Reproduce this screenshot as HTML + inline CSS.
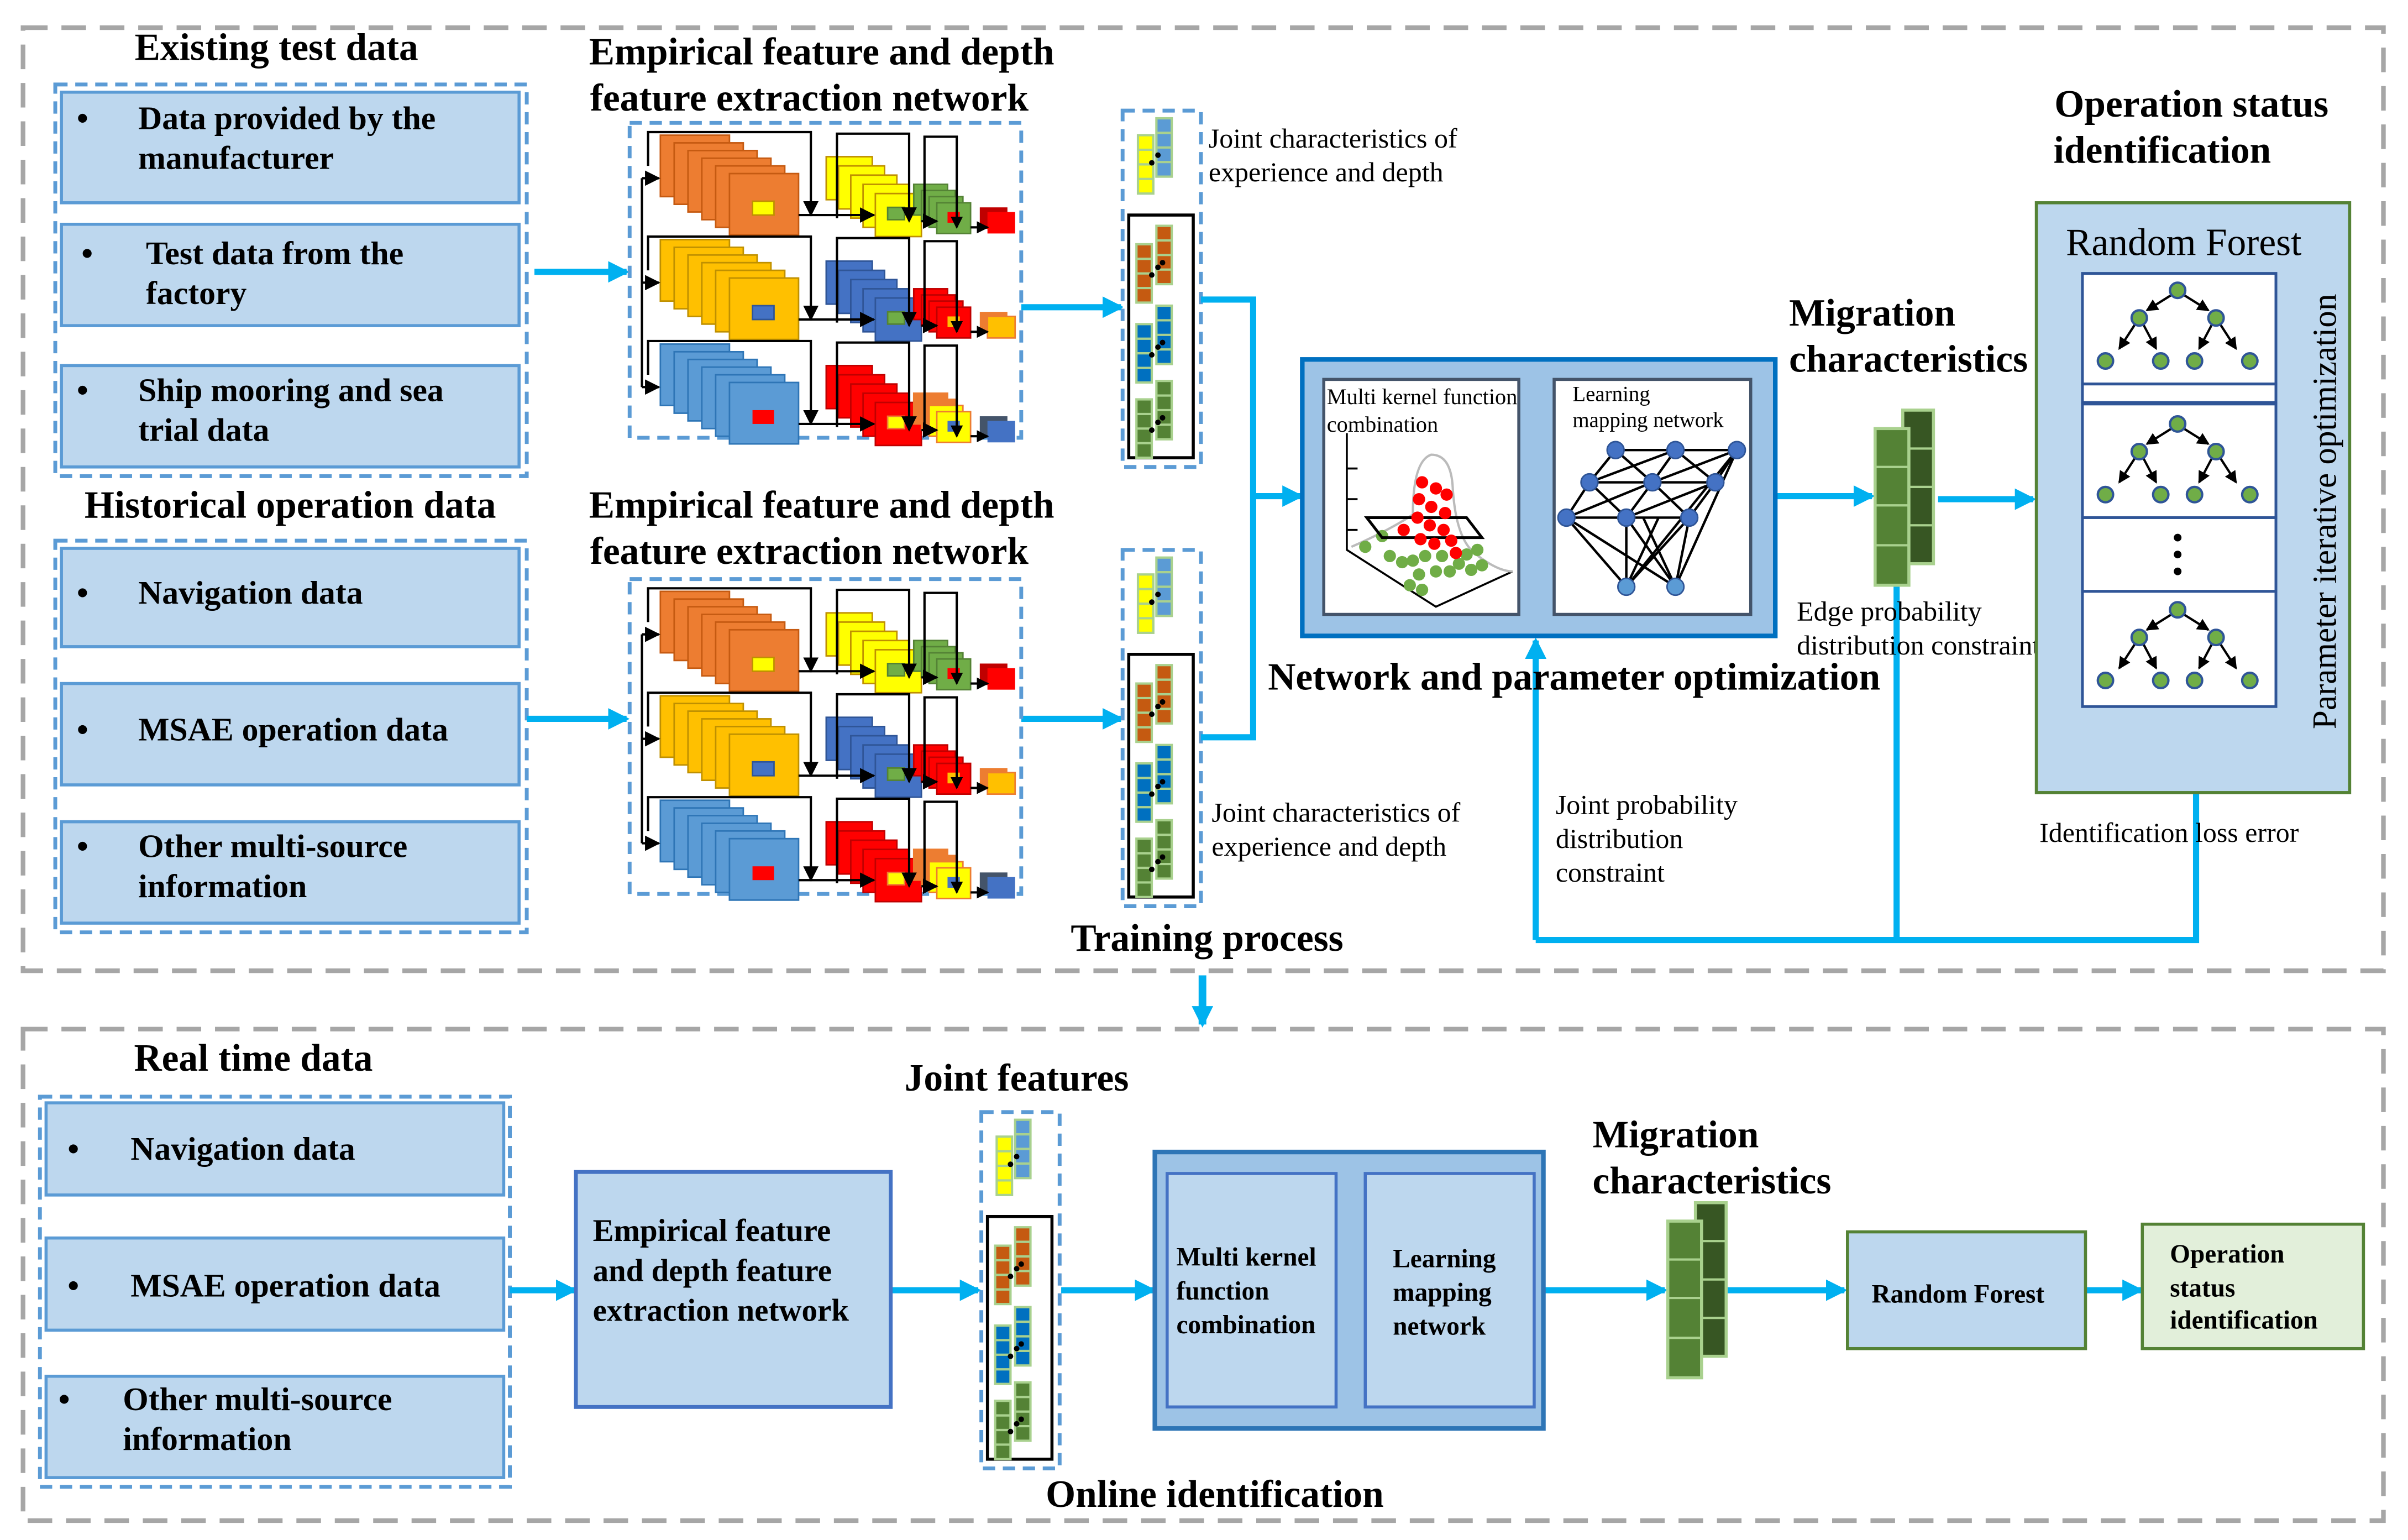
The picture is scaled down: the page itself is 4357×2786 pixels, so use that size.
<!DOCTYPE html>
<html><head><meta charset="utf-8"><style>
html,body{margin:0;padding:0;background:#fff}
svg{display:block}
text{font-family:"Liberation Serif",serif}
.h{font-weight:bold;font-size:25px}
.b{font-weight:bold;font-size:21.5px}
.r{font-size:18px}
</style></head><body>
<svg width="4357" height="2786" viewBox="0 0 1568 1002.6" xmlns="http://www.w3.org/2000/svg">
<defs>
<marker id="ab" markerWidth="14" markerHeight="14" refX="12" refY="7" orient="auto" markerUnits="userSpaceOnUse"><path d="M0,0 L14,7 L0,14 z" fill="#00b0f0"/></marker>
<marker id="ak" markerWidth="10" markerHeight="10" refX="9" refY="5" orient="auto" markerUnits="userSpaceOnUse"><path d="M0,0 L10,5 L0,10 z" fill="#000"/></marker>
<marker id="at" markerWidth="8" markerHeight="8" refX="7" refY="4" orient="auto" markerUnits="userSpaceOnUse"><path d="M0,0 L8,4 L0,8 z" fill="#000"/></marker>

<g id="row">
 <g stroke-width="1">
  <rect x="20" y="8" width="45" height="40"/><rect x="29" y="13" width="45" height="40"/><rect x="38" y="18" width="45" height="40"/><rect x="47" y="23" width="45" height="40"/><rect x="56" y="28" width="45" height="40"/><rect x="65" y="33" width="45" height="40"/>
 </g>
</g>

<g id="fen">
 <rect x="0" y="0" width="255" height="205" fill="#fff" stroke="#5b9bd5" stroke-width="2.5" stroke-dasharray="8,5"/>
 <g fill="#ed7d31" stroke="#c55a11"><use href="#row"/></g>
 <rect x="80" y="51" width="14" height="9" fill="#ffff00" stroke="#bf9000"/>
 <g fill="#ffff00" stroke="#bf9000"><rect x="128" y="22" width="30" height="28"/><rect x="136" y="28" width="30" height="28"/><rect x="144" y="34" width="30" height="28"/><rect x="152" y="40" width="30" height="28"/><rect x="160" y="46" width="30" height="28"/></g>
 <rect x="168" y="55" width="11" height="8" fill="#70ad47" stroke="#548235"/>
 <g fill="#70ad47" stroke="#548235"><rect x="185" y="40" width="22" height="20"/><rect x="190" y="44" width="22" height="20"/><rect x="195" y="48" width="22" height="20"/><rect x="200" y="52" width="22" height="20"/></g>
 <rect x="207" y="58" width="8" height="7" fill="#f00"/>
 <rect x="228" y="55" width="18" height="14" fill="#c00000"/><rect x="233" y="58" width="18" height="14" fill="#f00"/>
 <g transform="translate(0,68)">
 <g fill="#ffc000" stroke="#bf9000"><use href="#row"/></g>
 <rect x="80" y="51" width="14" height="9" fill="#4472c4" stroke="#2f5597"/>
 <g fill="#4472c4" stroke="#2f5597"><rect x="128" y="22" width="30" height="28"/><rect x="136" y="28" width="30" height="28"/><rect x="144" y="34" width="30" height="28"/><rect x="152" y="40" width="30" height="28"/><rect x="160" y="46" width="30" height="28"/></g>
 <rect x="168" y="55" width="11" height="8" fill="#70ad47" stroke="#548235"/>
 <g fill="#f00" stroke="#c00000"><rect x="185" y="40" width="22" height="20"/><rect x="190" y="44" width="22" height="20"/><rect x="195" y="48" width="22" height="20"/><rect x="200" y="52" width="22" height="20"/></g>
 <rect x="207" y="58" width="8" height="7" fill="#ffc000"/>
 <rect x="228" y="55" width="18" height="14" fill="#ed7d31"/><rect x="233" y="58" width="18" height="14" fill="#ffc000" stroke="#ed7d31"/>
 </g>
 <g transform="translate(0,136)">
 <g fill="#5b9bd5" stroke="#2e75b6"><use href="#row"/></g>
 <rect x="80" y="51" width="14" height="9" fill="#f00"/>
 <g fill="#f00" stroke="#c00000"><rect x="128" y="22" width="30" height="28"/><rect x="136" y="28" width="30" height="28"/><rect x="144" y="34" width="30" height="28"/><rect x="152" y="40" width="30" height="28"/><rect x="160" y="46" width="30" height="28"/></g>
 <rect x="168" y="55" width="11" height="8" fill="#ffff00" stroke="#ed7d31"/>
 <g fill="#ffff00" stroke="#ed7d31"><rect x="185" y="40" width="22" height="20" fill="#ed7d31"/><rect x="190" y="44" width="22" height="20" fill="#ed7d31"/><rect x="195" y="48" width="22" height="20"/><rect x="200" y="52" width="22" height="20"/></g>
 <rect x="207" y="58" width="8" height="7" fill="#4472c4"/>
 <rect x="228" y="55" width="18" height="14" fill="#44546a"/><rect x="233" y="58" width="18" height="14" fill="#4472c4"/>
 </g>
 <g fill="none" stroke="#000" stroke-width="1.5">
  <path d="M8,36 V172"/>
  <path d="M8,36 H19" marker-end="url(#ak)"/><path d="M8,104 H19" marker-end="url(#ak)"/><path d="M8,172 H19" marker-end="url(#ak)"/>
  <g id="brk">
   <path d="M12,28 V6 H118 V60" marker-end="url(#ak)"/>
   <path d="M110,60 H159" marker-end="url(#ak)"/>
   <path d="M135,62 V7 H182 V64" marker-end="url(#ak)"/>
   <path d="M190,64 H200" marker-end="url(#ak)"/>
   <path d="M192,64 V9 H213 V68" marker-end="url(#at)"/>
   <path d="M222,68 H233" marker-end="url(#at)"/>
  </g>
  <use href="#brk" y="68"/><use href="#brk" y="136"/>
 </g>
</g>

<g id="col"><rect x="0" y="0" width="10" height="38"/><line x1="0" y1="9.5" x2="10" y2="9.5"/><line x1="0" y1="19" x2="10" y2="19"/><line x1="0" y1="28.5" x2="10" y2="28.5"/></g>
<g id="pair">
 <use href="#col" x="7" y="12"/><use href="#col" x="20" y="0"/>
 <circle cx="17" cy="32" r="1.8" fill="#000" stroke="none"/><circle cx="21" cy="27" r="1.8" fill="#000" stroke="none"/><circle cx="24" cy="24" r="1.8" fill="#000" stroke="none"/>
</g>
<g id="joint">
 <rect x="0" y="0" width="51" height="232" fill="#fff" stroke="#5b9bd5" stroke-width="2.5" stroke-dasharray="8,5"/>
 <g stroke="#a9d18e" stroke-width="1.5"><g fill="#ffff00"><use href="#col" x="10" y="16"/></g><g fill="#5b9bd5"><use href="#col" x="22" y="5"/></g></g>
 <circle cx="19" cy="34" r="1.8"/><circle cx="23" cy="29" r="1.8"/>
 <rect x="4" y="68" width="42" height="158" fill="#fff" stroke="#000" stroke-width="2"/>
 <g stroke="#a9d18e" stroke-width="1.5">
  <g fill="#c55a11"><use href="#pair" x="2" y="75"/></g>
  <g fill="#0070c0"><use href="#pair" x="2" y="127"/></g>
  <g fill="#548235"><use href="#pair" x="2" y="176"/></g>
 </g>
</g>

<g id="tree" stroke="#000" stroke-width="1.5" fill="none">
 <path d="M-4,3 L-20,13" marker-end="url(#at)"/><path d="M4,3 L20,13" marker-end="url(#at)"/>
 <path d="M-27,21 L-38,38" marker-end="url(#at)"/><path d="M-23,21 L-14,38" marker-end="url(#at)"/>
 <path d="M23,21 L14,38" marker-end="url(#at)"/><path d="M27,21 L38,38" marker-end="url(#at)"/>
 <g fill="#70ad47" stroke="#2f5597" stroke-width="1.5">
  <circle cx="0" cy="0" r="5"/><circle cx="-25" cy="18" r="5"/><circle cx="25" cy="18" r="5"/>
  <circle cx="-47" cy="46" r="5"/><circle cx="-11" cy="46" r="5"/><circle cx="11" cy="46" r="5"/><circle cx="47" cy="46" r="5"/>
 </g>
</g>

<g id="mig">
 <rect x="18" y="0" width="20" height="100" fill="#375623" stroke="#a9d18e" stroke-width="2"/>
 <g stroke="#a9d18e" stroke-width="1.5"><line x1="18" y1="25" x2="38" y2="25"/><line x1="18" y1="50" x2="38" y2="50"/><line x1="18" y1="75" x2="38" y2="75"/></g>
 <rect x="0" y="12" width="22" height="102" fill="#548235" stroke="#a9d18e" stroke-width="2"/>
 <g stroke="#a9d18e" stroke-width="1.5"><line x1="0" y1="37" x2="22" y2="37"/><line x1="0" y1="62" x2="22" y2="62"/><line x1="0" y1="88" x2="22" y2="88"/></g>
</g>
</defs>

<rect x="15" y="18" width="1537" height="614" fill="none" stroke="#a6a6a6" stroke-width="3" stroke-dasharray="16,9"/>
<rect x="15" y="670" width="1537" height="320" fill="none" stroke="#a6a6a6" stroke-width="3" stroke-dasharray="16,9"/>

<text class="h" x="180" y="39" text-anchor="middle">Existing test data</text>
<rect x="36" y="55" width="307" height="255" fill="none" stroke="#5b9bd5" stroke-width="2.5" stroke-dasharray="8,5"/>
<g fill="#bdd7ee" stroke="#5b9bd5" stroke-width="2">
 <rect x="40" y="60" width="298" height="72"/><rect x="40" y="146" width="298" height="66"/><rect x="40" y="238" width="298" height="66"/>
</g>
<g class="b">
 <text x="50" y="84">•</text><text x="90" y="84">Data provided by the</text><text x="90" y="110">manufacturer</text>
 <text x="53" y="172">•</text><text x="95" y="172">Test data from the</text><text x="95" y="198">factory</text>
 <text x="50" y="261">•</text><text x="90" y="261">Ship mooring and sea</text><text x="90" y="287">trial data</text>
</g>
<text class="h" x="189" y="337" text-anchor="middle">Historical operation data</text>
<rect x="36" y="352" width="307" height="255" fill="none" stroke="#5b9bd5" stroke-width="2.5" stroke-dasharray="8,5"/>
<g fill="#bdd7ee" stroke="#5b9bd5" stroke-width="2">
 <rect x="40" y="357" width="298" height="64"/><rect x="40" y="445" width="298" height="66"/><rect x="40" y="535" width="298" height="66"/>
</g>
<g class="b">
 <text x="50" y="393">•</text><text x="90" y="393">Navigation data</text>
 <text x="50" y="482">•</text><text x="90" y="482">MSAE operation data</text>
 <text x="50" y="558">•</text><text x="90" y="558">Other multi-source</text><text x="90" y="584">information</text>
</g>

<g stroke="#00b0f0" stroke-width="4" fill="none">
 <path d="M348,177 H408" marker-end="url(#ab)"/>
 <path d="M343,468 H408" marker-end="url(#ab)"/>
 <path d="M665,200 H730" marker-end="url(#ab)"/>
 <path d="M665,468 H730" marker-end="url(#ab)"/>
</g>

<text class="h" x="535" y="42" text-anchor="middle">Empirical feature and depth</text>
<text class="h" x="527" y="72" text-anchor="middle">feature extraction network</text>
<use href="#fen" x="410" y="80"/>
<text class="h" x="535" y="337" text-anchor="middle">Empirical feature and depth</text>
<text class="h" x="527" y="367" text-anchor="middle">feature extraction network</text>
<use href="#fen" x="410" y="377"/>

<use href="#joint" x="731" y="72"/>
<use href="#joint" x="731" y="358"/>
<text class="r" x="787" y="96">Joint characteristics of</text>
<text class="r" x="787" y="118">experience and depth</text>
<text class="r" x="789" y="535">Joint characteristics of</text>
<text class="r" x="789" y="557">experience and depth</text>

<g stroke="#00b0f0" stroke-width="4" fill="none">
 <path d="M782,195 H816 V480 H782"/>
 <path d="M816,323 H847" marker-end="url(#ab)"/>
 <path d="M1156,323 H1219" marker-end="url(#ab)"/>
 <path d="M1262,325 H1324" marker-end="url(#ab)"/>
 <path d="M1235,382 V612 M1000,612 H1430 V517"/>
 <path d="M1000,612 V417" marker-end="url(#ab)"/>
 <path d="M1483,298 H1497 V495 H1418 V462" marker-end="url(#ab)"/>
</g>

<rect x="848" y="234" width="308" height="180" fill="#9dc3e6" stroke="#0070c0" stroke-width="3"/>
<rect x="862" y="247" width="127" height="153" fill="#fff" stroke="#44546a" stroke-width="2"/>
<rect x="1012" y="247" width="128" height="153" fill="#fff" stroke="#44546a" stroke-width="2"/>
<text x="864" y="263" font-size="14.5">Multi kernel function</text>
<text x="864" y="281" font-size="14.5">combination</text>
<text x="1024" y="261" font-size="14">Learning</text>
<text x="1024" y="278" font-size="14">mapping network</text>
<g fill="none" stroke="#000" stroke-width="1.3">
 <path d="M877,282 V358 L935,395 L985,372"/>
 <path d="M877,305 H884 M877,325 H884 M877,345 H884"/>
</g>
<path d="M880,356 Q905,345 920,335 Q920,300 932,296 Q945,296 946,318 Q948,350 960,360 Q975,372 985,372" fill="none" stroke="#bbb" stroke-width="1.5"/>
<g fill="#70ad47">
 <circle cx="889" cy="356" r="4"/><circle cx="900" cy="349" r="4"/><circle cx="905" cy="362" r="4"/><circle cx="913" cy="366" r="4"/><circle cx="920" cy="365" r="4"/><circle cx="924" cy="374" r="4"/><circle cx="928" cy="362" r="4"/><circle cx="935" cy="372" r="4"/><circle cx="939" cy="362" r="4"/><circle cx="944" cy="372" r="4"/><circle cx="950" cy="367" r="4"/><circle cx="955" cy="361" r="4"/><circle cx="958" cy="371" r="4"/><circle cx="965" cy="368" r="4"/><circle cx="918" cy="381" r="4"/><circle cx="926" cy="384" r="4"/><circle cx="962" cy="358" r="4"/>
</g>
<path d="M890,337 H955 L965,350 H900 Z" fill="none" stroke="#000" stroke-width="1.8"/>
<g fill="#f00">
 <circle cx="926" cy="314" r="4"/><circle cx="935" cy="318" r="4"/><circle cx="942" cy="322" r="4"/><circle cx="924" cy="325" r="4"/><circle cx="932" cy="330" r="4"/><circle cx="941" cy="334" r="4"/><circle cx="923" cy="337" r="4"/><circle cx="931" cy="342" r="4"/><circle cx="940" cy="345" r="4"/><circle cx="914" cy="345" r="4"/><circle cx="925" cy="351" r="4"/><circle cx="934" cy="354" r="4"/><circle cx="945" cy="352" r="4"/><circle cx="948" cy="360" r="4"/>
</g>
<g stroke="#000" stroke-width="1.6">
 <line x1="1052" y1="293" x2="1131" y2="293"/><line x1="1035" y1="314" x2="1117" y2="314"/><line x1="1020" y1="337" x2="1100" y2="337"/>
 <line x1="1052" y1="293" x2="1035" y2="314"/><line x1="1052" y1="293" x2="1076" y2="314"/><line x1="1091" y1="293" x2="1035" y2="314"/><line x1="1091" y1="293" x2="1076" y2="314"/><line x1="1091" y1="293" x2="1117" y2="314"/><line x1="1131" y1="293" x2="1076" y2="314"/><line x1="1131" y1="293" x2="1117" y2="314"/>
 <line x1="1035" y1="314" x2="1020" y2="337"/><line x1="1035" y1="314" x2="1059" y2="337"/><line x1="1076" y1="314" x2="1020" y2="337"/><line x1="1076" y1="314" x2="1059" y2="337"/><line x1="1076" y1="314" x2="1100" y2="337"/><line x1="1117" y1="314" x2="1059" y2="337"/><line x1="1117" y1="314" x2="1100" y2="337"/>
 <line x1="1020" y1="337" x2="1059" y2="382"/><line x1="1020" y1="337" x2="1091" y2="382"/><line x1="1059" y1="337" x2="1059" y2="382"/><line x1="1059" y1="337" x2="1091" y2="382"/><line x1="1100" y1="337" x2="1059" y2="382"/><line x1="1100" y1="337" x2="1091" y2="382"/><line x1="1131" y1="293" x2="1091" y2="382"/><line x1="1131" y1="293" x2="1059" y2="382"/><line x1="1070" y1="337" x2="1091" y2="382"/><line x1="1080" y1="337" x2="1059" y2="382"/>
</g>
<g fill="#4472c4" stroke="#2f5597" stroke-width="1">
 <circle cx="1052" cy="293" r="5.5"/><circle cx="1091" cy="293" r="5.5"/><circle cx="1131" cy="293" r="5.5"/>
 <circle cx="1035" cy="314" r="5.5"/><circle cx="1076" cy="314" r="5.5"/><circle cx="1117" cy="314" r="5.5"/>
 <circle cx="1020" cy="337" r="5.5"/><circle cx="1059" cy="337" r="5.5"/><circle cx="1100" cy="337" r="5.5"/>
 <circle cx="1059" cy="382" r="5.5" fill="#5b9bd5"/><circle cx="1091" cy="382" r="5.5" fill="#5b9bd5"/>
</g>
<text class="h" x="1025" y="449" text-anchor="middle">Network and parameter optimization</text>

<text class="h" x="1165" y="212">Migration</text>
<text class="h" x="1165" y="242">characteristics</text>
<use href="#mig" x="1221" y="267"/>
<text class="r" x="1170" y="404">Edge probability</text>
<text class="r" x="1170" y="426">distribution constraint</text>
<text class="r" x="1013" y="530">Joint probability</text>
<text class="r" x="1013" y="552">distribution</text>
<text class="r" x="1013" y="574">constraint</text>
<text class="r" x="1328" y="548">Identification loss error</text>

<text class="h" x="1427" y="76" text-anchor="middle">Operation status</text>
<text class="h" x="1408" y="106" text-anchor="middle">identification</text>
<rect x="1326" y="132" width="204" height="384" fill="#bdd7ee" stroke="#548235" stroke-width="2"/>
<text x="1422" y="166" text-anchor="middle" font-size="25">Random Forest</text>
<g fill="#fff" stroke="#2f5597" stroke-width="1.8">
 <rect x="1356" y="178" width="126" height="72"/><rect x="1356" y="250" width="126" height="12"/>
 <rect x="1356" y="263" width="126" height="74"/><rect x="1356" y="337" width="126" height="48"/>
 <rect x="1356" y="385" width="126" height="75"/>
</g>
<use href="#tree" x="1418" y="189"/><use href="#tree" x="1418" y="276"/><use href="#tree" x="1418" y="397"/>
<circle cx="1418" cy="350" r="2.5"/><circle cx="1418" cy="361" r="2.5"/><circle cx="1418" cy="372" r="2.5"/>
<text x="1521" y="333" text-anchor="middle" font-size="22" transform="rotate(-90 1521 333)">Parameter iterative optimization</text>

<text class="h" x="786" y="619" text-anchor="middle">Training process</text>
<path d="M783,635 V667" stroke="#00b0f0" stroke-width="5" marker-end="url(#ab)"/>

<text class="h" x="165" y="697" text-anchor="middle">Real time data</text>
<rect x="26" y="714" width="306" height="254" fill="none" stroke="#5b9bd5" stroke-width="2.5" stroke-dasharray="8,5"/>
<g fill="#bdd7ee" stroke="#5b9bd5" stroke-width="2">
 <rect x="30" y="718" width="298" height="60"/><rect x="30" y="806" width="298" height="60"/><rect x="30" y="896" width="298" height="66"/>
</g>
<g class="b">
 <text x="44" y="755">•</text><text x="85" y="755">Navigation data</text>
 <text x="44" y="844">•</text><text x="85" y="844">MSAE operation data</text>
 <text x="38" y="918">•</text><text x="80" y="918">Other multi-source</text><text x="80" y="944">information</text>
</g>
<g stroke="#00b0f0" stroke-width="4" fill="none">
 <path d="M332,840 H374" marker-end="url(#ab)"/>
 <path d="M580,840 H637" marker-end="url(#ab)"/>
 <path d="M691,840 H751" marker-end="url(#ab)"/>
 <path d="M870,840 H888" marker-end="url(#ab)"/>
 <path d="M1005,840 H1084" marker-end="url(#ab)"/>
 <path d="M1125,840 H1201" marker-end="url(#ab)"/>
 <path d="M1358,840 H1394" marker-end="url(#ab)"/>
</g>
<rect x="375" y="763" width="205" height="153" fill="#bdd7ee" stroke="#4472c4" stroke-width="2.5"/>
<g font-weight="bold" font-size="20.5"><text x="386" y="808">Empirical feature</text><text x="386" y="834">and depth feature</text><text x="386" y="860">extraction network</text></g>
<text class="h" x="662" y="710" text-anchor="middle">Joint features</text>
<use href="#joint" x="639" y="724"/>
<rect x="752" y="750" width="253" height="180" fill="#9dc3e6" stroke="#2e75b6" stroke-width="3"/>
<rect x="760" y="764" width="110" height="152" fill="#bdd7ee" stroke="#4472c4" stroke-width="2"/>
<rect x="889" y="764" width="110" height="152" fill="#bdd7ee" stroke="#4472c4" stroke-width="2"/>
<g font-weight="bold" font-size="17">
 <text x="766" y="824">Multi kernel</text><text x="766" y="846">function</text><text x="766" y="868">combination</text>
 <text x="907" y="825">Learning</text><text x="907" y="847">mapping</text><text x="907" y="869">network</text>
</g>
<text class="h" x="1037" y="747">Migration</text>
<text class="h" x="1037" y="777">characteristics</text>
<use href="#mig" x="1086" y="783"/>
<rect x="1203" y="802" width="155" height="76" fill="#bdd7ee" stroke="#548235" stroke-width="2"/>
<text x="1275" y="848" text-anchor="middle" font-size="17" font-weight="bold">Random Forest</text>
<rect x="1395" y="797" width="144" height="81" fill="#e2efda" stroke="#548235" stroke-width="2"/>
<g font-weight="bold" font-size="17"><text x="1413" y="822">Operation</text><text x="1413" y="844">status</text><text x="1413" y="865">identification</text></g>
<text class="h" x="791" y="981" text-anchor="middle">Online identification</text>
</svg>
</body></html>
